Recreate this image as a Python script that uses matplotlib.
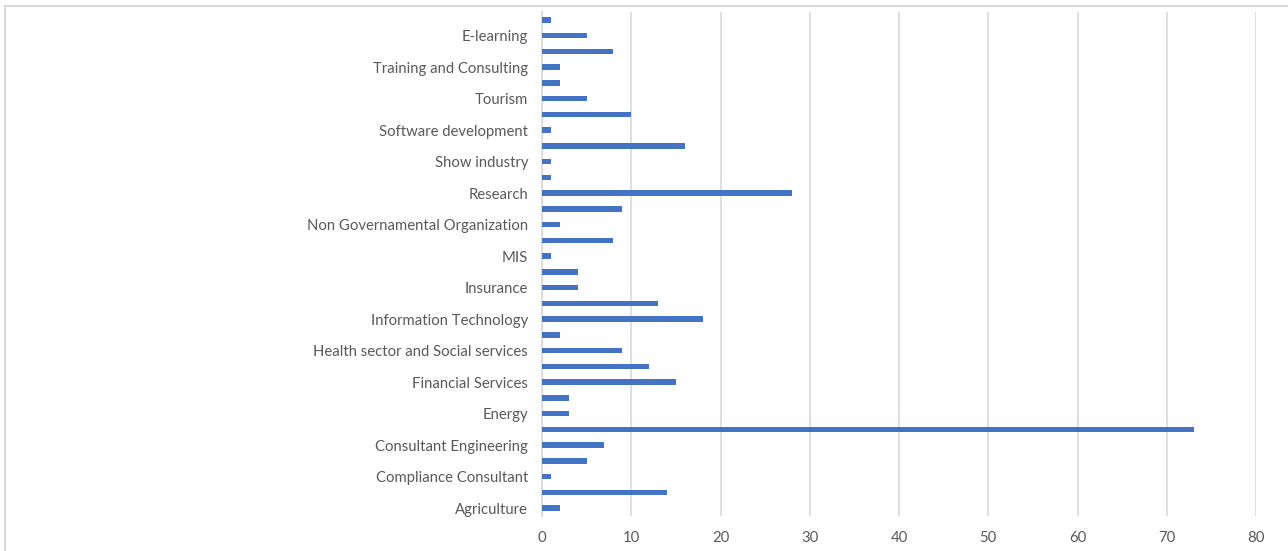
import matplotlib.pyplot as plt
from matplotlib.lines import Line2D

# sectors from bottom to top; only every other one carries a tick label
sectors = ["Agriculture", "", "Compliance Consultant", "", "Consultant Engineering", "",
           "Energy", "", "Financial Services", "", "Health sector and Social services", "",
           "Information Technology", "", "Insurance", "", "MIS", "",
           "Non Governamental Organization", "", "Research", "", "Show industry", "",
           "Software development", "", "Tourism", "", "Training and Consulting", "",
           "E-learning", ""]
counts = [2, 14, 1, 5, 7, 73, 3, 3, 15, 12, 9, 2, 18, 13, 4, 4,
          1, 8, 2, 9, 28, 1, 1, 16, 1, 10, 5, 2, 2, 8, 5, 1]
xticks = [0, 10, 20, 30, 40, 50, 60, 70, 80]

plt.rcParams['font.family'] = ['Lato', 'DejaVu Sans']
text_col = "#595959"
grid_col = "#d9d9d9"

fig = plt.figure(figsize=(12.88, 5.51), dpi=100)
ax = fig.add_axes([542 / 1288, 35 / 551, 714 / 1288, 504 / 551])

pos = list(range(len(counts)))
ax.barh(pos, counts, height=0.34, color="#4472c4", zorder=3)

ax.set_xlim(0, 80)
ax.set_ylim(-0.5, len(counts) - 0.5)
ax.set_xticks(xticks)
ax.set_xticklabels([str(t) for t in xticks])
ax.set_yticks(pos)
ax.set_yticklabels(sectors)
ax.tick_params(axis="both", length=0, labelsize=10.7, colors=text_col)
ax.tick_params(axis="x", pad=11)
ax.tick_params(axis="y", pad=10)

ax.grid(axis="x", color=grid_col, linewidth=1.2, zorder=0)
for side in ["top", "right", "bottom"]:
    ax.spines[side].set_visible(False)
ax.spines["left"].set_color(grid_col)
ax.spines["left"].set_linewidth(1.2)

# chart frame (top and left edges)
fig.add_artist(Line2D([4.5 / 1288, 1], [1 - 6 / 551, 1 - 6 / 551],
                      transform=fig.transFigure, color=grid_col, linewidth=1.5))
fig.add_artist(Line2D([4.5 / 1288, 4.5 / 1288], [0, 1 - 6 / 551],
                      transform=fig.transFigure, color=grid_col, linewidth=1.5))

fig.savefig("out.png", dpi=100)
